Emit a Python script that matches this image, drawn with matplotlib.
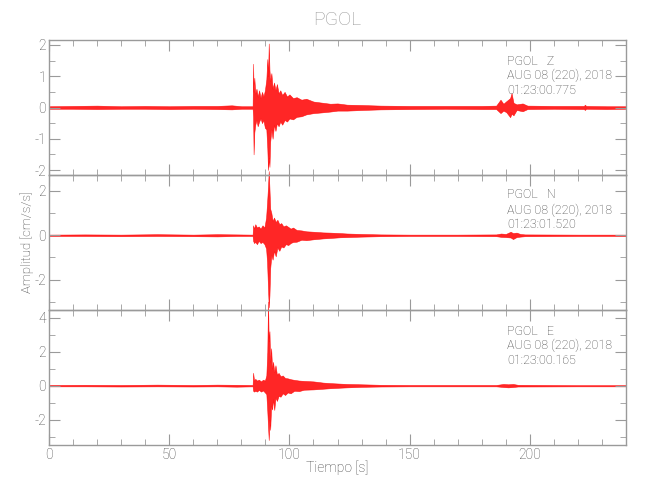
import matplotlib
matplotlib.use("Agg")
import matplotlib.pyplot as plt
from matplotlib.ticker import MultipleLocator
import numpy as np

plt.rcParams['font.family'] = ['Roboto', 'DejaVu Sans']
plt.rcParams['font.weight'] = 'light'
plt.rcParams['axes.unicode_minus'] = False

station = "PGOL"
components = ["Z", "N", "E"]
start_times = ["01:23:00.775", "01:23:01.520", "01:23:00.165"]
date_label = "AUG 08 (220), 2018"

# envelope of each trace: time [s], upper and lower amplitude [cm/s/s]
t_z = [0, 10, 20, 30, 40, 50, 60, 70, 76, 80, 84.7, 84.9, 85.1, 85.4, 85.8, 86.3, 86.8,
       87.4, 88.0, 88.6, 89.2, 89.8, 90.4, 90.8, 91.1, 91.4, 91.7, 92.0, 92.5, 93.0,
       93.6, 94.2, 94.8, 95.5, 96.2, 97.0, 98.0, 99.0, 100.0, 101.5, 103, 105, 107,
       110, 113, 117, 120, 124, 130, 138, 150, 165, 180, 186, 187.8, 189.0, 190.2,
       191.8, 192.4, 193.2, 194.5, 197.0, 199.0, 210, 222.5, 222.9, 223.4, 232, 240]
up_z = [0.04, 0.05, 0.06, 0.04, 0.05, 0.04, 0.05, 0.05, 0.07, 0.04, 0.04, 1.40, 0.50,
        0.95, 0.45, 0.60, 0.35, 0.55, 0.30, 0.50, 0.35, 0.55, 0.90, 1.55, 1.00, 2.05,
        1.20, 0.85, 1.10, 0.60, 0.80, 0.55, 0.75, 0.45, 0.55, 0.40, 0.50, 0.35, 0.42,
        0.30, 0.33, 0.25, 0.28, 0.19, 0.16, 0.12, 0.13, 0.09, 0.08, 0.06, 0.05, 0.05,
        0.05, 0.06, 0.25, 0.12, 0.20, 0.30, 0.46, 0.15, 0.10, 0.13, 0.06, 0.05, 0.05,
        0.09, 0.05, 0.04, 0.04]
lo_z = [-0.04, -0.04, -0.05, -0.04, -0.04, -0.05, -0.04, -0.05, -0.06, -0.04, -0.04,
        -0.30, -1.50, -0.80, -0.55, -0.40, -0.60, -0.45, -0.35, -0.50, -0.40, -0.65,
        -0.70, -1.30, -2.00, -1.60, -1.90, -1.10, -0.70, -1.00, -0.55, -0.75, -0.50,
        -0.60, -0.45, -0.55, -0.40, -0.45, -0.35, -0.38, -0.30, -0.28, -0.22, -0.18,
        -0.16, -0.13, -0.10, -0.10, -0.08, -0.06, -0.05, -0.04, -0.05, -0.05, -0.18,
        -0.10, -0.15, -0.31, -0.20, -0.25, -0.08, -0.12, -0.05, -0.04, -0.05, -0.08,
        -0.04, -0.05, -0.04]

t_n = [0, 15, 30, 45, 60, 70, 78, 84.7, 84.9, 85.3, 85.8, 86.5, 87.2, 88.0, 88.8, 89.6,
       90.3, 90.7, 91.1, 91.4, 91.7, 92.0, 92.5, 93.0, 93.6, 94.3, 95.0, 95.8, 96.6,
       97.5, 98.5, 99.5, 100.5, 101.5, 103, 105, 107, 110, 114, 117, 121, 124, 130,
       138, 150, 170, 186, 188, 190, 192, 193, 194.5, 196, 198, 220, 240]
up_n = [0.03, 0.04, 0.03, 0.05, 0.03, 0.05, 0.04, 0.03, 0.45, 0.30, 0.50, 0.35, 0.40,
        0.30, 0.45, 0.35, 0.80, 1.45, 2.20, 2.90, 2.10, 1.20, 1.00, 0.65, 0.80, 0.60,
        0.70, 0.50, 0.55, 0.40, 0.45, 0.38, 0.30, 0.35, 0.24, 0.22, 0.18, 0.16, 0.13,
        0.12, 0.10, 0.08, 0.06, 0.04, 0.03, 0.03, 0.04, 0.08, 0.06, 0.16, 0.10, 0.12,
        0.06, 0.04, 0.03, 0.03]
lo_n = [-0.03, -0.03, -0.04, -0.03, -0.04, -0.05, -0.03, -0.03, -0.25, -0.35, -0.30,
        -0.40, -0.25, -0.35, -0.30, -0.40, -0.60, -1.20, -2.40, -3.25, -2.70, -1.50,
        -0.90, -1.10, -0.70, -0.95, -0.55, -0.70, -0.50, -0.55, -0.40, -0.44, -0.35,
        -0.30, -0.29, -0.20, -0.22, -0.18, -0.14, -0.12, -0.09, -0.08, -0.06, -0.04,
        -0.03, -0.03, -0.04, -0.07, -0.08, -0.10, -0.17, -0.08, -0.06, -0.04, -0.03,
        -0.03]

t_e = [0, 15, 30, 45, 60, 70, 78, 84.7, 84.9, 85.3, 85.8, 86.5, 87.3, 88.2, 89.0, 89.8,
       90.4, 90.8, 91.1, 91.4, 91.7, 92.0, 92.4, 92.8, 93.2, 93.7, 94.2, 94.8, 95.5,
       96.3, 97.2, 98.2, 99.3, 100.5, 102, 104, 106, 110, 114, 117, 121, 124, 130, 138,
       150, 170, 186, 189, 191, 193, 195, 220, 240]
up_e = [0.04, 0.05, 0.04, 0.06, 0.04, 0.06, 0.05, 0.04, 0.76, 0.30, 0.40, 0.30, 0.35,
        0.25, 0.35, 0.30, 0.60, 2.00, 4.95, 2.60, 3.20, 1.40, 2.20, 1.00, 1.40, 0.80,
        1.20, 0.65, 0.75, 0.55, 0.60, 0.45, 0.43, 0.38, 0.34, 0.30, 0.28, 0.25, 0.18,
        0.15, 0.12, 0.10, 0.08, 0.05, 0.04, 0.04, 0.04, 0.10, 0.08, 0.10, 0.05, 0.03,
        0.03]
lo_e = [-0.04, -0.04, -0.05, -0.04, -0.05, -0.04, -0.06, -0.04, -0.30, -0.35, -0.30,
        -0.35, -0.25, -0.35, -0.28, -0.40, -0.50, -1.50, -2.40, -3.20, -2.00, -2.60,
        -1.20, -1.40, -0.80, -1.43, -0.70, -0.90, -0.60, -0.65, -0.45, -0.55, -0.40,
        -0.45, -0.30, -0.32, -0.24, -0.22, -0.18, -0.15, -0.12, -0.10, -0.07, -0.05,
        -0.04, -0.04, -0.04, -0.08, -0.10, -0.08, -0.05, -0.04, -0.04]

traces = [(t_z, up_z, lo_z), (t_n, up_n, lo_n), (t_e, up_e, lo_e)]
y_limits = [(-2.16, 2.16), (-3.37, 2.72), (-3.49, 4.45)]
y_major = [1, 2, 2]
y_minor = [0.5, 1, 1]

gray = "#9a9a9a"
txt = "#444444"

fig = plt.figure(figsize=(6.5, 5), dpi=100)
left, width = 49 / 650, 577 / 650
h = 135 / 500
bottoms = [1 - 40 / 500 - h, 1 - 40 / 500 - 2 * h, 1 - 40 / 500 - 3 * h]
text_y = [(61.7, 75.5, 90.5), (195, 210, 224.5), (331.7, 345.5, 360.5)]

for i in range(3):
    ax = fig.add_axes([left, bottoms[i], width, h])
    t, up, lo = traces[i]
    ax.fill_between(t, lo, up, color="#ff0000", lw=0.4, alpha=0.85, clip_on=False)
    ax.set_xlim(0, 240)
    ax.set_ylim(*y_limits[i])
    ax.xaxis.set_major_locator(MultipleLocator(50))
    ax.xaxis.set_minor_locator(MultipleLocator(10))
    ax.yaxis.set_major_locator(MultipleLocator(y_major[i]))
    ax.yaxis.set_minor_locator(MultipleLocator(y_minor[i]))
    ax.tick_params(which="both", direction="in", top=True, right=True,
                   color=gray, labelcolor=txt, labelsize=10, pad=2)
    ax.tick_params(which="major", length=8)
    ax.tick_params(which="minor", length=4)
    for s in ax.spines.values():
        s.set_color(gray)
        s.set_linewidth(1)
    if i < 2:
        ax.set_xticklabels([])
    ax.patch.set_alpha(0)

    ty = text_y[i]
    fig.text(507 / 650, 1 - ty[0] / 500, station + "   " + components[i],
             color=txt, fontsize=9, va="center")
    fig.text(507 / 650, 1 - ty[1] / 500, date_label, color=txt, fontsize=9, va="center")
    fig.text(507 / 650, 1 - ty[2] / 500, start_times[i], color=txt, fontsize=9, va="center")

fig.text(337 / 650, 1 - 20 / 500, station, color=gray, fontsize=14, ha="center", va="center")
fig.text(337 / 650, 1 - 468 / 500, "Tiempo [s]", color=txt, fontsize=10, ha="center", va="center")
fig.text(27 / 650, 1 - 242 / 500, "Amplitud [cm/s/s]", color=txt, fontsize=9.5,
         rotation=90, ha="center", va="center")

fig.savefig("out.png", dpi=100)
